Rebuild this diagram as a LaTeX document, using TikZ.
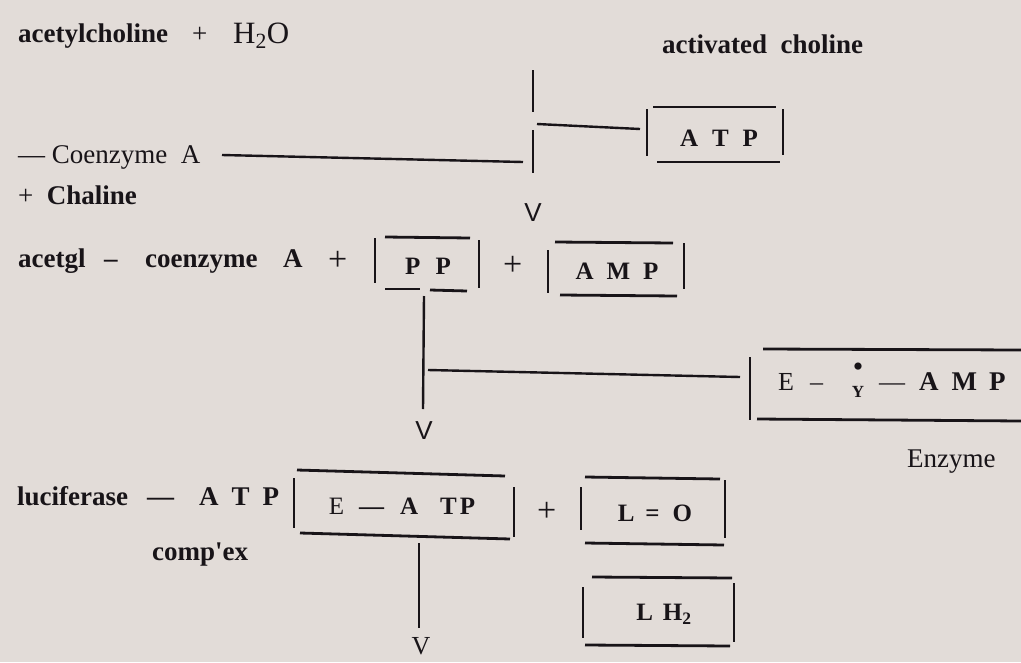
\documentclass[tikz,border=0pt]{standalone}
\usepackage{fontspec}
\setmainfont{Liberation Serif}
\newfontfamily\vsans{Liberation Sans}
\definecolor{paper}{RGB}{226,220,216}
\definecolor{ink}{RGB}{24,20,24}
\begin{document}
\begin{tikzpicture}[x=1pt,y=-1pt,
  lbl/.style={anchor=base west, inner sep=0pt, text=ink, font=\fontsize{27}{30}\selectfont\bfseries},
  lblr/.style={anchor=base west, inner sep=0pt, text=ink, font=\fontsize{27}{30}\selectfont},
  plussign/.style={anchor=base west, inner sep=0pt, text=ink, font=\fontsize{34}{36}\selectfont},
  boxtxt/.style={anchor=center, inner sep=0pt, text=ink, font=\fontsize{25}{27}\selectfont\bfseries},
  rule/.style={draw=ink, line width=2.8pt},
  link/.style={draw=ink, line width=2.4pt},
  vmark/.style={anchor=center, inner sep=0pt, text=ink, font=\vsans\fontsize{26}{28}\selectfont}]
\fill[paper] (0,0) rectangle (1021,662);
\useasboundingbox (0,0) rectangle (1021,662);

% ---------- texts ----------
\node[lbl] (acetylcholine) at (18,42) {acetylcholine};
\node[lblr] (plusA) at (192,42) {+};
\node[lblr, font=\fontsize{31}{33}\selectfont] (water) at (233,43) {H\textsubscript{2}O};
\node[lbl] (activated) at (662,53) {activated\ \ choline};
\node[lblr] (coA) at (18,163) {—\ Coenzyme\ \ A};
\node[lblr, font=\fontsize{27}{30}\selectfont\bfseries] (choline) at (18,204) {{\mdseries +}\ \ Chaline};
\node[lbl] (acetgl) at (18,267) {acetgl};
\node[lbl] (dash1) at (104,267) {–};
\node[lbl] (coenzyme) at (145,267) {coenzyme};
\node[lbl] (aA) at (283,267) {A};
\node[plussign] (plus1) at (328,270) {+};
\node[plussign] (plus2) at (503,275) {+};
\node[lbl] (luciferase) at (17,505) {luciferase};
\node[lbl] (dash2) at (147,505) {—};
\node[lbl] (lATP) at (199,505) {A\hspace{13pt}T\hspace{13pt}P};
\node[lbl] (complex) at (152,560) {comp\textquotesingle ex};
\node[plussign] (plus3) at (537,521) {+};
\node[lblr] (enzyme) at (907,467) {Enzyme};

% box contents
\node[boxtxt] (atpT) at (719,138) {A\hspace{14pt}T\hspace{14pt}P};
\node[boxtxt] (ppT) at (428,266) {P\hspace{15pt}P};
\node[boxtxt] (ampT) at (617,271) {A\hspace{13pt}M\hspace{13pt}P};
\node[lbl, font=\fontsize{26}{28}\selectfont] (eE) at (778,390) {E};
\node[lbl, font=\fontsize{26}{28}\selectfont] (eD1) at (810,390) {–};
\node[anchor=center, inner sep=0pt, text=ink, font=\fontsize{30}{32}\selectfont] (dot) at (858,370) {•};
\node[anchor=center, inner sep=0pt, text=ink, font=\fontsize{17}{18}\selectfont\bfseries] (yY) at (858,392) {Y};
\node[lbl, font=\fontsize{26}{28}\selectfont] (eD2) at (879,390) {—};
\node[lbl] (eAMP) at (919,390) {A\hspace{13pt}M\hspace{12pt}P};
\node[boxtxt] (eatpT) at (402,506) {{\mdseries E}\hspace{15pt}—\hspace{16pt}A\hspace{22pt}T\hspace{3pt}P};
\node[boxtxt] (loT) at (655,513) {L\hspace{11pt}=\hspace{13pt}O};
\node[boxtxt] (lh2T) at (664,614) {L\hspace{10pt}H\textsubscript{2}};

% V marks
\node[vmark] (v1) at (533,213) {V};
\node[vmark] (v2) at (424,431) {V};
\node[vmark, font=\fontsize{26}{28}\selectfont] (v3) at (421,646) {V};

% ---------- boxes (drawn as four separate strokes) ----------
% ATP
\draw[rule] (647,109) -- (647,156);
\draw[rule] (653,107) -- (776,107);
\draw[rule] (657,162) -- (780,162);
\draw[rule] (783,109) -- (783,155);
% PP
\draw[rule] (375,238) -- (375,283);
\draw[rule] (385,237) -- (470,238);
\draw[rule] (479,240) -- (479,288);
\draw[rule] (385,289) -- (420,289);
\draw[rule] (430,290) -- (467,291);
% AMP
\draw[rule] (548,250) -- (548,293);
\draw[rule] (555,242) -- (673,243);
\draw[rule] (684,243) -- (684,289);
\draw[rule] (560,295) -- (677,296);
% E - Y - AMP
\draw[rule] (750,357) -- (750,420);
\draw[rule] (763,349) -- (1021,350);
\draw[rule] (757,419) -- (1021,421);
% E - ATP
\draw[rule] (294,478) -- (294,528);
\draw[rule] (297,470) -- (505,476);
\draw[rule] (514,487) -- (514,537);
\draw[rule] (300,533) -- (510,539);
% L = O
\draw[rule] (581,487) -- (581,530);
\draw[rule] (585,477) -- (720,479);
\draw[rule] (725,480) -- (725,538);
\draw[rule] (585,543) -- (724,545);
% L H2
\draw[rule] (583,587) -- (583,638);
\draw[rule] (592,577) -- (732,578);
\draw[rule] (734,583) -- (734,642);
\draw[rule] (585,645) -- (730,646);

% ---------- connectors ----------
\coordinate (a1) at (533,70);
\coordinate (a2) at (533,112);
\coordinate (a3) at (533,130);
\coordinate (a4) at (533,173);
\coordinate (c1) at (222,155);
\coordinate (c2) at (523,162);
\coordinate (b1) at (537,124);
\coordinate (b2) at (640,129);
\coordinate (p1) at (424,296);
\coordinate (p2) at (423,409);
\coordinate (q1) at (428,370);
\coordinate (q2) at (740,377);
\coordinate (e1) at (419,543);
\coordinate (e2) at (419,628);
\draw[link] (a1) -- (a2);
\draw[link] (a3) -- (a4);
\draw[link] (c1) -- (c2);
\draw[link] (b1) -- (b2);
\draw[link] (p1) -- (p2);
\draw[link] (q1) -- (q2);
\draw[link] (e1) -- (e2);
\end{tikzpicture}
\end{document}
